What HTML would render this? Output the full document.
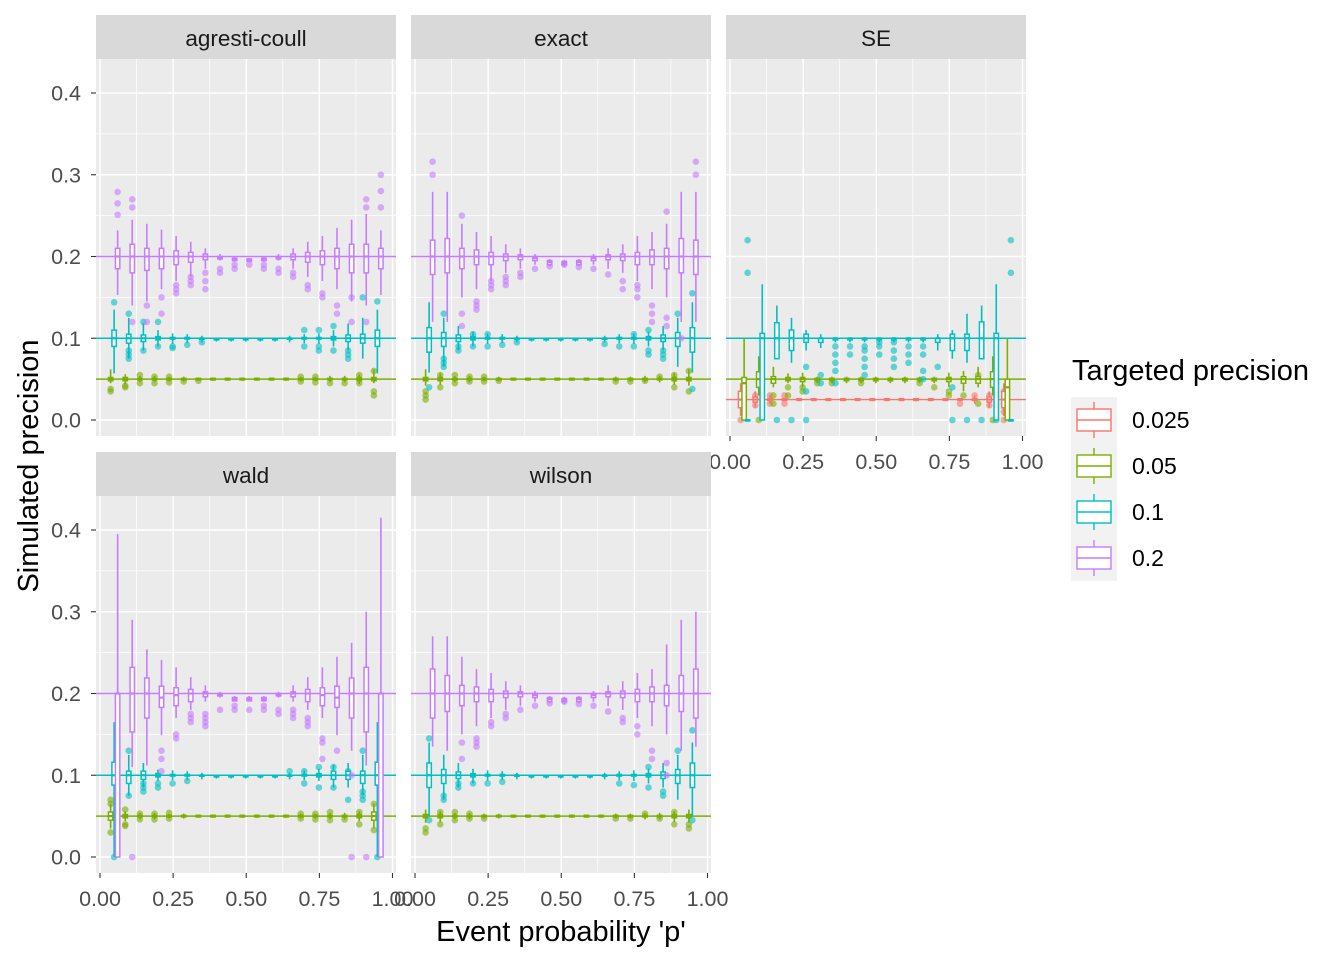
<!DOCTYPE html>
<html><head><meta charset="utf-8"><style>
body{margin:0;background:#fff;}
svg{display:block;font-family:"Liberation Sans",Arial,sans-serif;}
</style></head><body>
<svg id="chart" width="1344" height="960" viewBox="0 0 1344 960" xmlns="http://www.w3.org/2000/svg"></svg>
<script>
// ---------- data ----------
const pValues = [0.05,0.1,0.15,0.2,0.25,0.3,0.35,0.4,0.45,0.5,0.55,0.6,0.65,0.7,0.75,0.8,0.85,0.9,0.95];
const groupNames = ['0.025','0.05','0.1','0.2'];
const groupColors = ['#F8766D','#7CAE00','#00BFC4','#C77CFF'];
const yTicks = [0,0.1,0.2,0.3,0.4];
const yTickLabels = ['0.0','0.1','0.2','0.3','0.4'];
const xTicks = [0,0.25,0.5,0.75,1];
const xTickLabels = ['0.00','0.25','0.50','0.75','1.00'];
// rows: [lo, q1, median, q3, hi]
const acGreen = [[.045,.048,.05,.052,.062],[.044,.048,.05,.052,.056],[.046,.049,.05,.051,.054],[.046,.049,.05,.051,.054],[.047,.049,.05,.051,.053],[.047,.049,.05,.051,.053],[.048,.049,.05,.051,.052],[.048,.049,.05,.051,.052],[.048,.049,.05,.051,.052],[.048,.049,.05,.051,.052],[.048,.049,.05,.051,.052],[.048,.049,.05,.051,.052],[.048,.049,.05,.051,.052],[.047,.049,.05,.051,.053],[.047,.049,.05,.051,.053],[.046,.049,.05,.051,.054],[.046,.049,.05,.051,.054],[.044,.048,.05,.052,.056],[.045,.048,.05,.052,.062]];
const acGreenOut = [[0,.035],[0,.038],[1,.042],[1,.04],[2,.045],[2,.055],[3,.045],[3,.053],[4,.046],[4,.053],[5,.047],[6,.048],[13,.047],[13,.053],[14,.046],[14,.053],[15,.045],[16,.045],[17,.045],[17,.055],[18,.03],[18,.035],[18,.06]];
const acCyan = [[.057,.09,.1,.11,.135],[.075,.094,.1,.105,.125],[.085,.096,.1,.104,.118],[.09,.098,.1,.102,.11],[.093,.099,.1,.101,.106],[.094,.099,.1,.101,.105],[.095,.099,.1,.1,.103],[.096,.098,.099,.1,.1],[.096,.098,.099,.1,.1],[.096,.098,.099,.1,.1],[.096,.098,.099,.1,.1],[.096,.098,.099,.1,.1],[.095,.099,.1,.1,.103],[.094,.099,.1,.101,.105],[.093,.099,.1,.101,.106],[.09,.098,.1,.102,.11],[.085,.096,.1,.104,.118],[.075,.094,.1,.105,.125],[.057,.09,.1,.11,.135]];
const acCyanOut = [[0,.144],[1,.13],[1,.085],[1,.08],[1,.075],[2,.085],[2,.12],[3,.09],[3,.12],[4,.09],[4,.088],[5,.092],[6,.095],[13,.09],[13,.11],[14,.085],[14,.09],[14,.11],[15,.085],[15,.115],[16,.075],[16,.08],[16,.085],[17,.15],[18,.145]];
const acPurple = [[.153,.185,.2,.21,.232],[.14,.18,.2,.215,.245],[.145,.183,.2,.21,.24],[.16,.185,.2,.21,.233],[.17,.19,.2,.207,.225],[.175,.193,.2,.205,.218],[.185,.196,.2,.203,.21],[.195,.197,.199,.2,.203],[.194,.195,.197,.198,.199],[.193,.194,.196,.197,.198],[.194,.195,.197,.198,.199],[.195,.197,.199,.2,.203],[.185,.196,.2,.203,.21],[.175,.193,.2,.205,.218],[.17,.19,.2,.207,.225],[.16,.185,.2,.21,.235],[.145,.18,.2,.215,.245],[.14,.18,.2,.215,.252],[.153,.185,.2,.21,.232]];
const acPurpleOut = [[0,.251],[0,.265],[0,.279],[1,.27],[1,.26],[1,.12],[2,.14],[2,.12],[3,.15],[3,.13],[4,.165],[4,.16],[4,.155],[5,.175],[5,.17],[5,.165],[6,.18],[6,.17],[6,.16],[7,.185],[7,.18],[8,.19],[8,.185],[9,.19],[10,.19],[10,.185],[11,.185],[11,.18],[12,.18],[12,.175],[13,.165],[13,.16],[14,.155],[14,.15],[15,.14],[15,.13],[16,.15],[16,.12],[17,.26],[17,.27],[17,.12],[18,.26],[18,.28],[18,.3]];

const exGreen = [[.042,.048,.05,.052,.062],[.043,.048,.05,.052,.057],[.046,.049,.05,.051,.054],[.046,.049,.05,.051,.054],[.047,.049,.05,.051,.053],[.047,.049,.05,.051,.053],[.048,.049,.05,.051,.052],[.048,.049,.05,.051,.052],[.048,.049,.05,.051,.052],[.048,.049,.05,.051,.052],[.048,.049,.05,.051,.052],[.048,.049,.05,.051,.052],[.048,.049,.05,.051,.052],[.047,.049,.05,.051,.053],[.047,.049,.05,.051,.053],[.046,.049,.05,.051,.054],[.046,.049,.05,.051,.054],[.043,.048,.05,.052,.057],[.042,.048,.05,.052,.062]];
const exGreenOut = [[0,.035],[0,.03],[0,.025],[1,.04],[1,.055],[2,.045],[2,.055],[3,.047],[3,.053],[4,.047],[4,.053],[5,.048],[13,.047],[14,.047],[15,.048],[16,.053],[17,.04],[17,.055],[18,.035],[18,.06]];
const exCyan = [[.058,.083,.1,.113,.144],[.065,.09,.1,.107,.125],[.085,.096,.1,.104,.115],[.09,.098,.1,.102,.108],[.093,.099,.1,.101,.106],[.094,.099,.1,.101,.105],[.095,.099,.1,.1,.103],[.096,.098,.099,.1,.1],[.096,.098,.099,.1,.1],[.096,.098,.099,.1,.1],[.096,.098,.099,.1,.1],[.096,.098,.099,.1,.1],[.095,.099,.1,.1,.103],[.094,.099,.1,.101,.105],[.093,.099,.1,.101,.106],[.09,.098,.1,.102,.108],[.085,.096,.1,.104,.115],[.065,.09,.1,.107,.125],[.058,.083,.1,.113,.144]];
const exCyanOut = [[0,.04],[1,.13],[1,.07],[1,.065],[1,.075],[2,.09],[2,.085],[3,.09],[3,.105],[4,.09],[4,.105],[5,.092],[6,.095],[12,.093],[13,.09],[14,.09],[14,.105],[15,.085],[15,.08],[15,.11],[16,.075],[16,.08],[16,.085],[17,.13],[18,.155],[18,.038]];
const exPurple = [[.12,.178,.2,.22,.279],[.12,.18,.2,.222,.279],[.15,.185,.2,.21,.24],[.16,.19,.2,.208,.23],[.17,.19,.2,.205,.225],[.18,.195,.2,.203,.215],[.185,.196,.2,.202,.21],[.19,.195,.198,.2,.203],[.188,.19,.193,.195,.197],[.187,.19,.192,.194,.196],[.188,.19,.193,.195,.197],[.19,.195,.198,.2,.203],[.185,.196,.2,.202,.21],[.18,.195,.2,.203,.215],[.17,.19,.2,.205,.225],[.16,.19,.2,.208,.23],[.15,.185,.2,.21,.24],[.12,.18,.2,.222,.279],[.12,.178,.2,.22,.279]];
const exPurpleOut = [[0,.3],[0,.316],[2,.25],[2,.13],[2,.115],[3,.135],[3,.14],[3,.145],[4,.16],[4,.165],[4,.17],[5,.165],[5,.17],[5,.175],[6,.175],[6,.18],[7,.185],[8,.188],[9,.19],[10,.187],[11,.185],[12,.178],[13,.16],[13,.17],[14,.15],[14,.16],[14,.165],[15,.12],[15,.13],[15,.14],[16,.255],[16,.125],[16,.115],[17,.1],[18,.3],[18,.316]];

const seRed = [[.005,.015,.025,.035,.045],[.015,.022,.025,.028,.035],[.02,.024,.025,.026,.03],[.023,.024,.025,.026,.027],[.023,.024,.025,.026,.027],[.023,.024,.025,.026,.027],[.023,.024,.025,.026,.027],[.023,.024,.025,.026,.027],[.023,.024,.025,.026,.027],[.023,.024,.025,.026,.027],[.023,.024,.025,.026,.027],[.023,.024,.025,.026,.027],[.023,.024,.025,.026,.027],[.023,.024,.025,.026,.027],[.023,.024,.025,.026,.027],[.023,.024,.025,.026,.027],[.02,.024,.025,.026,.03],[.015,.022,.025,.028,.035],[.005,.015,.025,.035,.045]];
const seRedOut = [[0,0],[1,.03],[1,.018],[2,.03],[2,.02],[3,.03],[3,.02],[15,.02],[16,.03],[17,.03],[17,.018],[18,.035],[18,.02],[18,.01],[18,0]];
const seGreen = [[0,0,.045,.052,.1],[.03,.04,.05,.059,.078],[.04,.045,.05,.053,.065],[.045,.048,.05,.052,.057],[.04,.047,.05,.052,.058],[.045,.048,.05,.051,.053],[.045,.048,.05,.051,.053],[.045,.048,.05,.051,.053],[.045,.048,.05,.051,.053],[.045,.048,.05,.051,.053],[.045,.048,.05,.051,.053],[.045,.048,.05,.051,.053],[.045,.048,.05,.051,.053],[.045,.048,.05,.051,.053],[.04,.047,.05,.052,.058],[.035,.045,.05,.053,.06],[.04,.045,.05,.053,.065],[.03,.04,.05,.059,.078],[0,0,.04,.05,.1]];
const seGreenOut = [[1,0],[2,.03],[2,.02],[3,.03],[3,.04],[4,.035],[4,.04],[5,.045],[6,.045],[8,.045],[12,.045],[13,.04],[14,.035],[14,.03],[15,.03],[16,.02],[16,.055],[17,0]];
const seCyan = [[0,0,0,0,0],[0,0,.1,.106,.166],[.075,.075,.1,.119,.14],[.07,.085,.1,.11,.125],[.085,.095,.1,.105,.11],[.088,.095,.1,.1,.105],[.095,.098,.1,.1,.1],[.095,.098,.1,.1,.1],[.095,.098,.1,.1,.1],[.095,.098,.1,.1,.1],[.095,.098,.1,.1,.1],[.095,.098,.1,.1,.1],[.095,.098,.1,.1,.1],[.085,.095,.1,.1,.105],[.075,.085,.1,.105,.11],[.07,.085,.1,.105,.13],[.075,.075,.1,.12,.14],[0,0,.1,.106,.166],[0,0,0,0,0]];
const seCyanOut = [[0,.22],[0,.18],[2,0],[3,0],[4,0],[4,.065],[4,.035],[5,.055],[5,.045],[6,.09],[6,.08],[6,.07],[6,.06],[6,.045],[7,.09],[7,.08],[8,.09],[8,.085],[8,.075],[8,.065],[8,.055],[9,.095],[9,.09],[9,.08],[10,.095],[10,.085],[10,.075],[10,.065],[11,.09],[11,.08],[11,.07],[12,.09],[12,.08],[12,.06],[12,.05],[13,.065],[14,0],[14,.04],[15,0],[16,0],[17,0],[18,.22],[18,.18]];

const waGreen = [[.035,.045,.05,.055,.065],[.044,.048,.05,.052,.056],[.046,.049,.05,.051,.054],[.046,.049,.05,.051,.054],[.047,.049,.05,.051,.053],[.047,.049,.05,.051,.053],[.048,.049,.05,.051,.052],[.048,.049,.05,.051,.052],[.048,.049,.05,.051,.052],[.048,.049,.05,.051,.052],[.048,.049,.05,.051,.052],[.048,.049,.05,.051,.052],[.048,.049,.05,.051,.052],[.047,.049,.05,.051,.053],[.047,.049,.05,.051,.053],[.046,.049,.05,.051,.054],[.046,.049,.05,.051,.054],[.044,.048,.05,.052,.056],[.035,.045,.05,.055,.065]];
const waGreenOut = [[0,.07],[0,.065],[0,.03],[1,.04],[1,.038],[1,.058],[2,.046],[2,.053],[3,.046],[3,.053],[4,.047],[4,.054],[13,.047],[13,.053],[14,.046],[14,.053],[15,.045],[15,.055],[16,.046],[17,.04],[17,.055],[18,.065],[18,.033]];
const waCyan = [[0,.088,.1,.116,.165],[.075,.09,.1,.105,.125],[.085,.095,.1,.105,.115],[.093,.098,.1,.102,.107],[.094,.099,.1,.101,.106],[.094,.099,.1,.101,.105],[.095,.099,.1,.1,.103],[.096,.098,.099,.1,.1],[.096,.098,.099,.1,.1],[.096,.098,.099,.1,.1],[.096,.098,.099,.1,.1],[.096,.098,.099,.1,.1],[.095,.099,.1,.1,.103],[.094,.099,.1,.101,.106],[.093,.098,.1,.102,.108],[.085,.095,.1,.105,.113],[.085,.095,.1,.105,.115],[.075,.09,.1,.105,.125],[0,.088,.1,.116,.165]];
const waCyanOut = [[0,0],[1,.13],[1,.075],[2,.08],[2,.085],[2,.09],[3,.09],[3,.085],[4,.09],[5,.093],[12,.105],[13,.09],[13,.105],[14,.085],[14,.11],[15,.085],[15,.11],[16,.07],[16,.105],[17,.075],[17,.08],[17,.07],[17,.13],[18,0]];
const waPurple = [[0,0,.2,.2,.395],[.11,.153,.2,.232,.29],[.112,.17,.2,.219,.254],[.149,.183,.195,.209,.241],[.17,.185,.198,.207,.232],[.18,.19,.2,.205,.22],[.19,.196,.2,.202,.21],[.195,.197,.199,.2,.202],[.19,.191,.193,.195,.197],[.19,.191,.193,.195,.197],[.19,.191,.193,.195,.197],[.195,.197,.199,.2,.202],[.19,.196,.2,.202,.21],[.18,.19,.2,.205,.22],[.17,.185,.198,.207,.232],[.149,.183,.195,.209,.245],[.13,.17,.2,.219,.262],[.112,.153,.2,.232,.3],[0,0,.2,.2,.415]];
const waPurpleOut = [[1,0],[3,.13],[3,.12],[3,.105],[4,.15],[4,.145],[5,.165],[5,.17],[5,.175],[6,.16],[6,.165],[6,.17],[6,.175],[7,.18],[8,.185],[8,.18],[9,.18],[10,.18],[10,.185],[11,.175],[11,.18],[12,.17],[12,.175],[12,.18],[13,.16],[13,.165],[13,.17],[14,.14],[14,.145],[14,.12],[15,.13],[16,0],[16,.1],[17,0]];

const wiGreen = [[.042,.048,.05,.052,.058],[.043,.048,.05,.052,.056],[.046,.049,.05,.051,.054],[.046,.049,.05,.051,.054],[.047,.049,.05,.051,.053],[.047,.049,.05,.051,.053],[.048,.049,.05,.051,.052],[.048,.049,.05,.051,.052],[.048,.049,.05,.051,.052],[.048,.049,.05,.051,.052],[.048,.049,.05,.051,.052],[.048,.049,.05,.051,.052],[.048,.049,.05,.051,.052],[.047,.049,.05,.051,.053],[.047,.049,.05,.051,.053],[.046,.049,.05,.051,.054],[.046,.049,.05,.051,.054],[.043,.048,.05,.052,.056],[.042,.048,.05,.052,.058]];
const wiGreenOut = [[0,.035],[0,.03],[1,.04],[1,.055],[2,.045],[2,.055],[3,.047],[3,.053],[4,.047],[13,.047],[14,.047],[15,.053],[16,.047],[17,.04],[17,.055],[18,.035],[18,.04]];
const wiCyan = [[.05,.085,.1,.115,.14],[.07,.09,.1,.107,.125],[.085,.096,.1,.104,.115],[.09,.098,.1,.102,.108],[.093,.099,.1,.101,.106],[.094,.099,.1,.101,.105],[.095,.099,.1,.1,.103],[.096,.098,.099,.1,.1],[.096,.098,.099,.1,.1],[.096,.098,.099,.1,.1],[.096,.098,.099,.1,.1],[.096,.098,.099,.1,.1],[.095,.099,.1,.1,.103],[.094,.099,.1,.101,.105],[.093,.099,.1,.101,.106],[.09,.098,.1,.102,.108],[.085,.096,.1,.104,.115],[.07,.09,.1,.107,.125],[.05,.085,.1,.115,.14]];
const wiCyanOut = [[0,.145],[0,.045],[1,.07],[1,.075],[2,.09],[2,.085],[3,.09],[4,.09],[5,.092],[13,.09],[14,.088],[15,.085],[15,.11],[16,.075],[16,.08],[17,.13],[18,.155],[18,.045]];
const wiPurple = [[.135,.17,.2,.23,.27],[.13,.178,.2,.222,.27],[.15,.185,.2,.21,.245],[.16,.19,.2,.208,.23],[.17,.19,.2,.205,.225],[.18,.195,.2,.203,.215],[.185,.196,.2,.202,.21],[.19,.195,.198,.2,.203],[.188,.19,.193,.195,.197],[.187,.19,.192,.194,.196],[.188,.19,.193,.195,.197],[.19,.195,.198,.2,.203],[.185,.196,.2,.202,.21],[.18,.195,.2,.203,.215],[.17,.19,.2,.205,.225],[.16,.19,.2,.208,.23],[.15,.185,.2,.21,.26],[.13,.178,.2,.222,.29],[.135,.17,.2,.23,.3]];
const wiPurpleOut = [[2,.14],[2,.12],[3,.135],[3,.14],[3,.145],[4,.16],[4,.165],[5,.17],[5,.175],[6,.18],[7,.185],[8,.188],[9,.19],[10,.187],[11,.185],[12,.178],[13,.165],[13,.17],[14,.15],[14,.16],[15,.12],[15,.13],[16,.115],[16,.1]];

// ---------- layout ----------
const NS='http://www.w3.org/2000/svg';
const svg=document.getElementById('chart');
function el(tag,attrs,parent){const e=document.createElementNS(NS,tag);for(const k in attrs)e.setAttribute(k,attrs[k]);(parent||svg).appendChild(e);return e;}

const panels=[
 {title:'agresti-coull',L:96,T:59,key:'agresti-coull',groups:[[1,acGreen,acGreenOut],[2,acCyan,acCyanOut],[3,acPurple,acPurpleOut]],xlab:false,ylab:true},
 {title:'exact',L:411,T:59,key:'exact',groups:[[1,exGreen,exGreenOut],[2,exCyan,exCyanOut],[3,exPurple,exPurpleOut]],xlab:false,ylab:false},
 {title:'SE',L:726,T:59,key:'se',groups:[[0,seRed,seRedOut],[1,seGreen,seGreenOut],[2,seCyan,seCyanOut]],xlab:true,ylab:false},
 {title:'wald',L:96,T:496,key:'wald',groups:[[1,waGreen,waGreenOut],[2,waCyan,waCyanOut],[3,waPurple,waPurpleOut]],xlab:true,ylab:true},
 {title:'wilson',L:411,T:496,key:'wilson',groups:[[1,wiGreen,wiGreenOut],[2,wiCyan,wiCyanOut],[3,wiPurple,wiPurpleOut]],xlab:true,ylab:false}
];
const PW=300,PH=377;
const offs3=[-4,-0.5,3], offs4=[-5,-1.5,2,5.5];

panels.forEach(pn=>{
  const L=pn.L,T=pn.T;
  const xs=p=>L+4+p*292.5;
  const ys=v=>T+361-v*817.5;
  const g=el('g',{});
  
  
  const st=el('rect',{x:L,y:T-44,width:PW,height:44,fill:'#D9D9D9'},g);
  
  
  const stt=el('text',{x:L+PW/2,y:T-13,'text-anchor':'middle','font-size':'22.5','fill':'#1A1A1A'},g);
  stt.textContent=pn.title;
  
  
  const bg=el('rect',{x:L,y:T,width:PW,height:PH,fill:'#EBEBEB'},g);
  
  
  for(let i=0;i<4;i++){const v=0.05+0.1*i;el('line',{x1:L,x2:L+PW,y1:ys(v),y2:ys(v),stroke:'#fff','stroke-width':0.7},g);}
  for(let i=0;i<4;i++){const v=0.125+0.25*i;el('line',{y1:T,y2:T+PH,x1:xs(v),x2:xs(v),stroke:'#fff','stroke-width':0.7},g);}
  yTicks.forEach(v=>el('line',{x1:L,x2:L+PW,y1:ys(v),y2:ys(v),stroke:'#fff','stroke-width':1.4},g));
  xTicks.forEach(v=>el('line',{y1:T,y2:T+PH,x1:xs(v),x2:xs(v),stroke:'#fff','stroke-width':1.4},g));
  const refVals=[0.025,0.05,0.1,0.2];
  pn.groups.forEach(([gi])=>{
    const r=el('line',{x1:L,x2:L+PW,y1:ys(refVals[gi]),y2:ys(refVals[gi]),stroke:groupColors[gi],'stroke-width':1.4},g);
    
    
  });
  const offs=pn.groups.length===3?offs3:offs4;
  pn.groups.forEach(([gi,rows,outs],k)=>{
    const col=groupColors[gi], off=offs[k];
    const gg=el('g',{},g);
    
    
    outs.forEach(([i,v])=>{
      const c=el('circle',{cx:xs(pValues[i])+off,cy:ys(v),r:3.3,fill:col,'fill-opacity':0.6},gg);
      
      
    });
    rows.forEach((r,i)=>{
      const x=xs(pValues[i])+off;
      const [lo,q1,md,q3,hi]=r;
      const w=el('line',{x1:x,x2:x,y1:ys(hi),y2:ys(lo),stroke:col,'stroke-width':1.6},gg);
      
      
      const h=Math.max(ys(q1)-ys(q3),1);
      const b=el('rect',{x:x-2.2,y:ys(q3),width:4.4,height:h,fill:'#fff',stroke:col,'stroke-width':1.5},gg);
      
      
      el('line',{x1:x-2.2,x2:x+2.2,y1:ys(md),y2:ys(md),stroke:col,'stroke-width':2.2},gg);
    });
  });
  if(pn.ylab){
    yTicks.forEach((v,i)=>{
      el('line',{x1:L-5,x2:L,y1:ys(v),y2:ys(v),stroke:'#333','stroke-width':1.1});
      const t=el('text',{x:L-15,y:ys(v)+7.5,'text-anchor':'end','font-size':'21.5',fill:'#4D4D4D'});
      t.textContent=yTickLabels[i];
      
      
    });
  }
  if(pn.xlab){
    xTicks.forEach((v,i)=>{
      el('line',{x1:xs(v),x2:xs(v),y1:T+PH,y2:T+PH+5,stroke:'#333','stroke-width':1.1});
      const t=el('text',{x:xs(v),y:T+PH+33,'text-anchor':'middle','font-size':'21.5',fill:'#4D4D4D'});
      t.textContent=xTickLabels[i];
      
      
    });
  }
});

const xt=el('text',{x:561,y:941,'text-anchor':'middle','font-size':'29',fill:'#000'});
xt.textContent="Event probability 'p'";


const yt=el('text',{x:0,y:0,'text-anchor':'middle','font-size':'29',fill:'#000',transform:'translate(38,466) rotate(-90)'});
yt.textContent='Simulated precision';



const lg=el('g',{});


const lt=el('text',{x:1072,y:380,'font-size':'29',fill:'#000'},lg);
lt.textContent='Targeted precision';


groupNames.forEach((n,i)=>{
  const y0=397+i*46;
  const e=el('g',{},lg);
  
  
  el('rect',{x:1071,y:y0,width:46,height:46,fill:'#F2F2F2'},e);
  el('line',{x1:1094,x2:1094,y1:y0+5,y2:y0+41,stroke:groupColors[i],'stroke-width':1.4},e);
  el('rect',{x:1077,y:y0+12,width:34,height:22,fill:'#fff',stroke:groupColors[i],'stroke-width':1.4},e);
  el('line',{x1:1077,x2:1111,y1:y0+23,y2:y0+23,stroke:groupColors[i],'stroke-width':1.4},e);
  const t=el('text',{x:1132,y:y0+31,'font-size':'23',fill:'#000'},e);
  t.textContent=n;
});
</script>
</body></html>
